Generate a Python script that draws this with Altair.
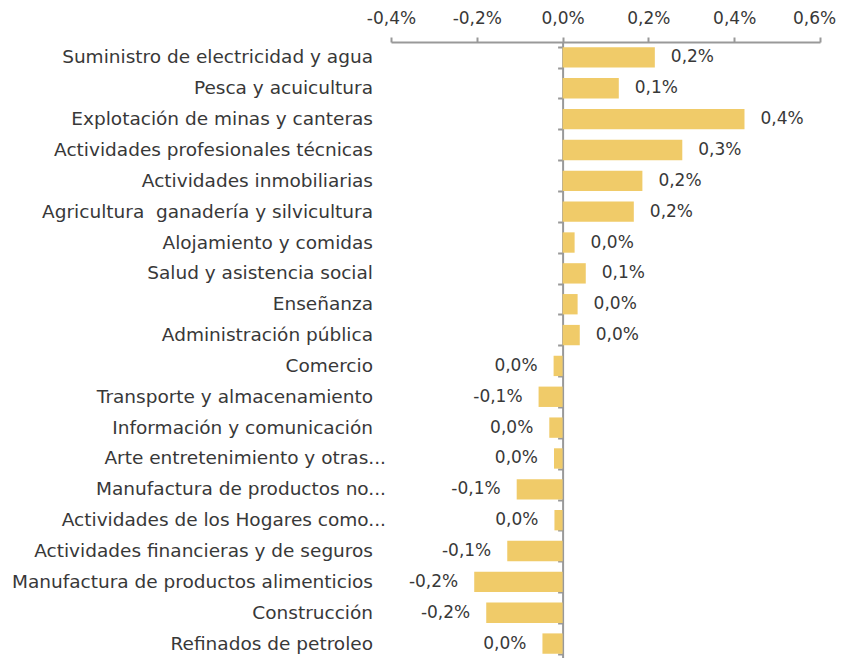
import altair as alt
import pandas as pd

categories = [
    "Suministro de electricidad y agua",
    "Pesca y acuicultura",
    "Explotación de minas y canteras",
    "Actividades profesionales técnicas",
    "Actividades inmobiliarias",
    "Agricultura\u00a0 ganadería y silvicultura",
    "Alojamiento y comidas",
    "Salud y asistencia social",
    "Enseñanza",
    "Administración pública",
    "Comercio",
    "Transporte y almacenamiento",
    "Información y comunicación",
    "Arte entretenimiento y otras...",
    "Manufactura de productos no...",
    "Actividades de los Hogares como...",
    "Actividades financieras y de seguros",
    "Manufactura de productos alimenticios",
    "Construcción",
    "Refinados de petroleo",
]
# contribution, in percentage points
values = [0.215, 0.131, 0.424, 0.279, 0.186, 0.166, 0.028, 0.054, 0.035, 0.040,
          -0.021, -0.056, -0.031, -0.020, -0.107, -0.019, -0.129, -0.206, -0.178, -0.047]
x_ticks = [-0.4, -0.2, 0.0, 0.2, 0.4, 0.6]


def fmt(v):
    r = round(v, 1)
    if r == 0:
        r = 0.0
    s = f"{abs(r):.1f}".replace(".", ",") + "%"
    return ("-" if r < 0 else "") + s


df = pd.DataFrame({
    "cat": categories,
    "val": values,
    "label": [fmt(v) for v in values],
    "trunc": [c.endswith("...") for c in categories],
    "pos": [v >= 0 for v in values],
})

FONT = "DejaVu Sans"
TXT = "#383838"
GREY = "#999999"
W, H = 429, 617

y = alt.Y("cat:N", sort=categories,
          scale=alt.Scale(paddingInner=0.34, paddingOuter=0.17),
          axis=alt.Axis(title=None, labels=False, domain=True, domainColor=GREY,
                        domainWidth=2, ticks=True, tickColor=GREY, tickWidth=2,
                        tickSize=5, tickBand="extent", offset=-(W * 0.4)))
x = alt.X("val:Q", scale=alt.Scale(domain=[-0.4, 0.6], nice=False, zero=False),
          axis=alt.Axis(title=None, orient="top", values=x_ticks, grid=False,
                        domainColor=GREY, domainWidth=2, tickColor=GREY, tickWidth=2,
                        tickSize=5, labelPadding=10, labelFont=FONT, labelFontSize=17,
                        labelColor=TXT, labelFlush=False, labelOverlap=False,
                        labelOffset=alt.condition("datum.value > 0.5", alt.value(-6), alt.value(0)),
                        labelExpr="(datum.value < -0.0001 ? '-' : '') + replace(format(abs(datum.value), '.1f'), '.', ',') + '%'"))

base = alt.Chart(df)
bars = base.mark_bar(color="#F0CB69").encode(x=x, x2=alt.datum(0), y=y)

pos_lab = base.transform_filter("datum.pos").mark_text(
    align="left", dx=16, font=FONT, fontSize=17, color=TXT
).encode(x="val:Q", y=alt.Y("cat:N", sort=categories), text="label:N")
neg_lab = base.transform_filter("!datum.pos").mark_text(
    align="right", dx=-16, font=FONT, fontSize=17, color=TXT
).encode(x="val:Q", y=alt.Y("cat:N", sort=categories), text="label:N")

cat_lab = base.transform_filter("!datum.trunc").mark_text(
    align="right", font=FONT, fontSize=18.5, color=TXT
).encode(x=alt.value(-18), y=alt.Y("cat:N", sort=categories), text="cat:N")
cat_lab_t = base.transform_filter("datum.trunc").mark_text(
    align="right", font=FONT, fontSize=18.5, color=TXT
).encode(x=alt.value(-5), y=alt.Y("cat:N", sort=categories), text="cat:N")

chart = alt.layer(bars, pos_lab, neg_lab, cat_lab, cat_lab_t).properties(
    width=W, height=H,
    autosize=alt.AutoSizeParams(type="none"),
    padding={"left": 383, "top": 34, "right": 16, "bottom": 0},
).configure_view(stroke=None)

chart.save("out.html", embed_options={"renderer": "svg", "actions": False})
